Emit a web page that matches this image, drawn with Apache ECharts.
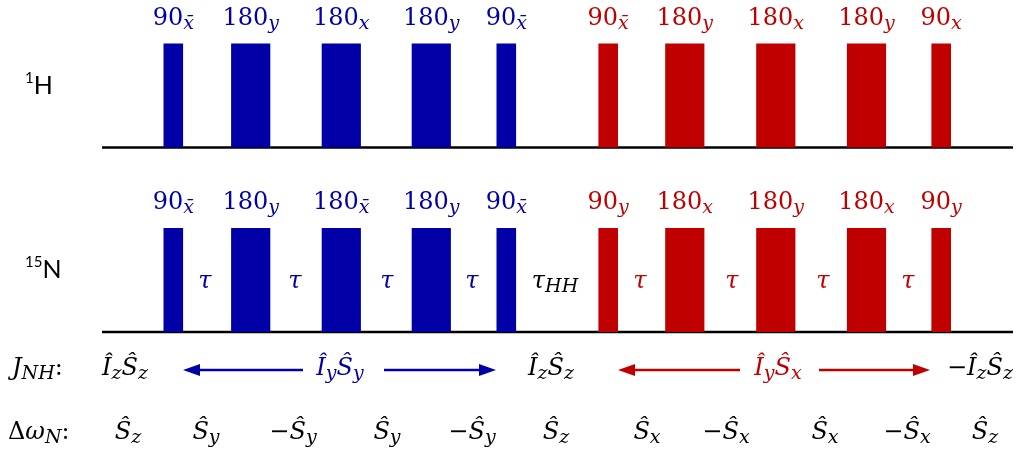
<!DOCTYPE html>
<html><head><meta charset="utf-8">
<script src="https://cdn.jsdelivr.net/npm/echarts@6/dist/echarts.min.js"></script>
<style>html,body{margin:0;padding:0;background:#fff}#c{width:1018px;height:456px}</style>
</head><body><div id="c"></div>
<script>
// ---------------- data ----------------
const pulseCenters = [173.3, 250.7, 341.3, 431.3, 506.3, 608.2, 684.8, 775.8, 866.5, 941.2];
const pulseAngles  = [90, 180, 180, 180, 90, 90, 180, 180, 180, 90];
const pulseBlock   = [0, 0, 0, 0, 0, 1, 1, 1, 1, 1];
const phases1H     = ['x̄', 'y', 'x', 'y', 'x̄', 'x̄', 'y', 'x', 'y', 'x'];
const phases15N    = ['x̄', 'y', 'x̄', 'y', 'x̄', 'y', 'x', 'y', 'x', 'y'];
const channelNames = ['1H', '15N'];
const sequenceSpan = [102, 1013];
const delayCenters = [205, 295, 387, 472, 555, 640, 732, 823, 908];
const delayNames   = ['τ', 'τ', 'τ', 'τ', 'τ_{HH}', 'τ', 'τ', 'τ', 'τ'];
const delayBlock   = [0, 0, 0, 0, 2, 1, 1, 1, 1];
const rowNames     = ['J_{NH}:', 'Δω_{N}:'];
const couplingStates = ['Î_{z}Ŝ_{z}', 'Î_{y}Ŝ_{y}', 'Î_{z}Ŝ_{z}', 'Î_{y}Ŝ_{x}', '−Î_{z}Ŝ_{z}'];
const couplingTimes  = [125, 340, 551, 778, 980];
const couplingBlock  = [2, 0, 2, 1, 2];
const arrowFrom  = [303, 384, 740, 819];
const arrowTo    = [183, 496, 618, 930];
const arrowBlock = [0, 0, 1, 1];
const offsetStates = ['Ŝ_{z}', 'Ŝ_{y}', '−Ŝ_{y}', 'Ŝ_{y}', '−Ŝ_{y}', 'Ŝ_{z}', 'Ŝ_{x}', '−Ŝ_{x}', 'Ŝ_{x}', '−Ŝ_{x}', 'Ŝ_{z}'];
const offsetTimes  = [128, 206, 293, 387, 472, 556, 647, 726, 825, 907, 985];

// ---------------- layout & style ----------------
const COLORS = ['#0000A6', '#C00000', '#000000'];
const SERIF = '"DejaVu Serif", serif';
const SANS = 'Lato, "Open Sans", sans-serif';
const L = {
  baseY: [147.5, 332], pulseH: 104, pulse90W: 19.6,
  pulseLabelY: [19, 202.5], channelLabelY: [85.5, 270], channelLabelX: 25,
  delayY: 282, couplingY: 369, arrowY: 370, offsetY: 433, rowLabelX: [12, 8],
  baseLineW: 2.6, arrowLineW: 2.4, headLen: 17, headHalf: 6
};

function richStyles(color) {
  return {
    n: { fontFamily: SERIF, fontSize: 24, lineHeight: 30, fill: color },
    i: { fontFamily: SERIF, fontStyle: 'italic', fontSize: 24, lineHeight: 30, fill: color },
    s: { fontFamily: SERIF, fontStyle: 'italic', fontSize: 19, lineHeight: 13, verticalAlign: 'bottom', fill: color },
    p: { fontFamily: SANS, fontSize: 15, lineHeight: 12, verticalAlign: 'top', fill: color },
    a: { fontFamily: SANS, fontSize: 25, lineHeight: 30, fill: color }
  };
}
function classify(ch) { return /[0-9−Δ:\s]/.test(ch) ? 'n' : 'i'; }
function toRich(str) {
  let out = '';
  const re = /_\{([^}]*)\}|[^_]+/g;
  let m;
  while ((m = re.exec(str))) {
    if (m[1] !== undefined) { out += '{s|' + m[1] + '}'; continue; }
    let cur = null, buf = '';
    for (const ch of m[0]) {
      const comb = /[\u0300-\u036f]/.test(ch);
      const c = comb ? cur : classify(ch);
      if (c !== cur && buf) { out += '{' + cur + '|' + buf + '}'; buf = ''; }
      cur = c; buf += ch;
    }
    if (buf) out += '{' + cur + '|' + buf + '}';
  }
  return out;
}
function isotope(name) {
  const m = name.match(/^(\d+)(.*)$/);
  return '{p|' + m[1] + '}{a|' + m[2] + '}';
}

// text series helper: items = [{t, y, text, color, align}]
function textSeries(items) {
  return {
    type: 'custom', silent: true,
    data: items.map(it => [it.t, it.y]),
    renderItem: function (params, api) {
      const it = items[params.dataIndex];
      const p = api.coord([api.value(0), api.value(1)]);
      return {
        type: 'text', x: p[0], y: p[1],
        style: { text: it.text, rich: richStyles(it.color), align: it.align || 'center', verticalAlign: 'middle', fill: it.color }
      };
    }
  };
}

// pulses
const pulseItems = [];
[0, 1].forEach(ch => pulseCenters.forEach((t, i) => pulseItems.push({ t, ch, ang: pulseAngles[i], color: COLORS[pulseBlock[i]] })));

const pulseSeries = {
  type: 'custom', silent: true,
  data: pulseItems.map(p => [p.t, L.baseY[p.ch]]),
  renderItem: function (params, api) {
    const p = pulseItems[params.dataIndex];
    const w = p.ang / 90 * L.pulse90W;
    const a = api.coord([api.value(0) - w / 2, api.value(1) - L.pulseH]);
    const b = api.coord([api.value(0) + w / 2, api.value(1)]);
    return { type: 'rect', shape: { x: a[0], y: a[1], width: b[0] - a[0], height: b[1] - a[1] }, style: { fill: p.color } };
  }
};

const baselineSeries = {
  type: 'custom', silent: true,
  data: L.baseY.map(y => [sequenceSpan[0], y]),
  renderItem: function (params, api) {
    const a = api.coord([sequenceSpan[0], api.value(1)]);
    const b = api.coord([sequenceSpan[1], api.value(1)]);
    return { type: 'line', shape: { x1: a[0], y1: a[1], x2: b[0], y2: b[1] }, style: { stroke: '#000', lineWidth: L.baseLineW } };
  }
};

const arrowSeries = {
  type: 'custom', silent: true,
  data: arrowFrom.map((f, i) => [f, arrowTo[i]]),
  renderItem: function (params, api) {
    const color = COLORS[arrowBlock[params.dataIndex]];
    const a = api.coord([api.value(0), L.arrowY]);
    const b = api.coord([api.value(1), L.arrowY]);
    const dir = b[0] > a[0] ? 1 : -1;
    const bx = b[0] - dir * L.headLen;
    return {
      type: 'group', children: [
        { type: 'line', shape: { x1: a[0], y1: a[1], x2: bx + dir * 1, y2: b[1] }, style: { stroke: color, lineWidth: L.arrowLineW } },
        { type: 'polygon', shape: { points: [[b[0], b[1]], [bx, b[1] - L.headHalf], [bx, b[1] + L.headHalf]] }, style: { fill: color } }
      ]
    };
  }
};

const texts = [];
[0, 1].forEach(ch => {
  const phases = ch === 0 ? phases1H : phases15N;
  pulseCenters.forEach((t, i) => texts.push({ t, y: L.pulseLabelY[ch], text: toRich(pulseAngles[i] + '_{' + phases[i] + '}'), color: COLORS[pulseBlock[i]] }));
  texts.push({ t: L.channelLabelX, y: L.channelLabelY[ch], text: isotope(channelNames[ch]), color: '#000', align: 'left' });
});
delayCenters.forEach((t, i) => texts.push({ t, y: L.delayY, text: toRich(delayNames[i]), color: COLORS[delayBlock[i]] }));
texts.push({ t: L.rowLabelX[0], y: L.couplingY, text: toRich(rowNames[0]), color: '#000', align: 'left' });
texts.push({ t: L.rowLabelX[1], y: L.offsetY, text: toRich(rowNames[1]), color: '#000', align: 'left' });
couplingTimes.forEach((t, i) => texts.push({ t, y: L.couplingY, text: toRich(couplingStates[i]), color: COLORS[couplingBlock[i]] }));
offsetTimes.forEach((t, i) => texts.push({ t, y: L.offsetY, text: toRich(offsetStates[i]), color: '#000' }));

const chart = echarts.init(document.getElementById('c'), null, { renderer: 'canvas' });
chart.setOption({
  animation: false,
  backgroundColor: '#fff',
  grid: { left: 0, right: 0, top: 0, bottom: 0 },
  xAxis: { type: 'value', min: 0, max: 1018, show: false },
  yAxis: { type: 'value', min: 0, max: 456, inverse: true, show: false },
  series: [baselineSeries, pulseSeries, arrowSeries, textSeries(texts)]
});
</script></body></html>
